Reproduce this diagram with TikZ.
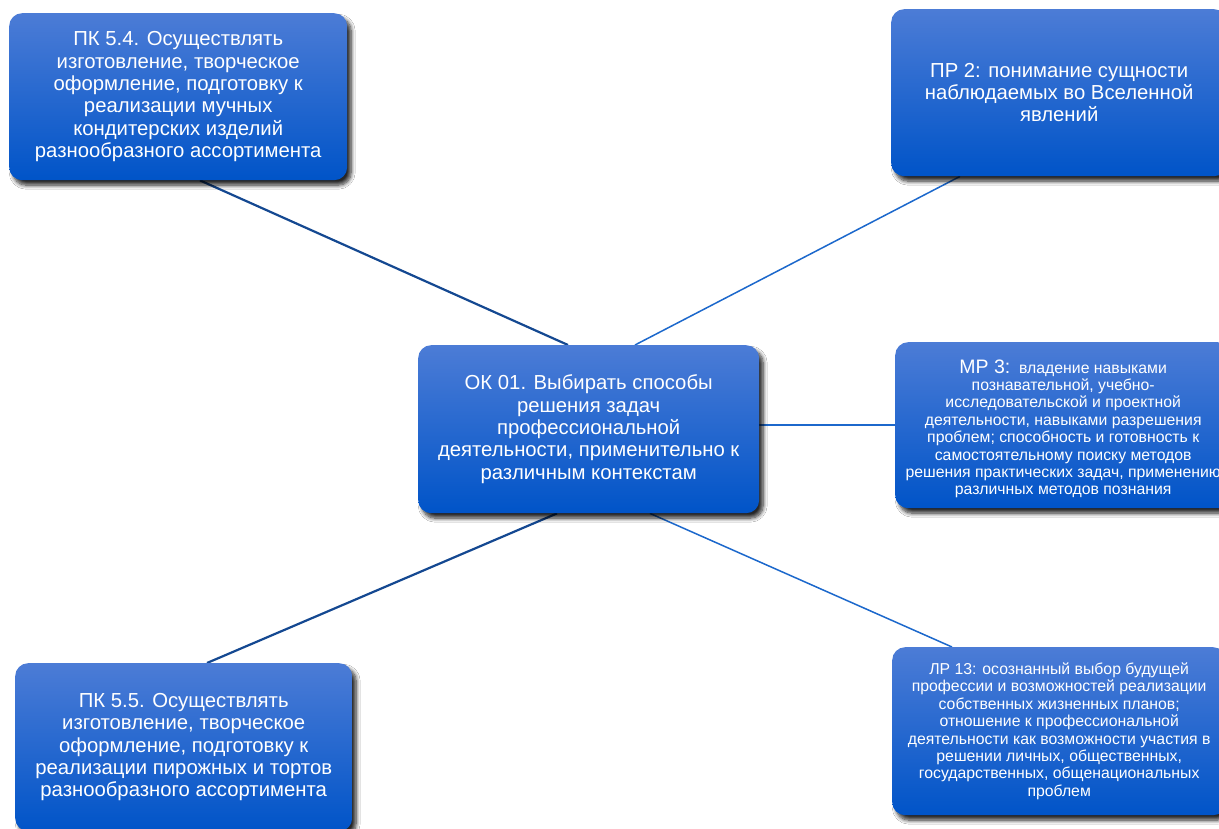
\documentclass[tikz,border=0pt]{standalone}
\usepackage{fontspec}
\setmainfont{Liberation Sans}
\usetikzlibrary{shadows.blur,backgrounds}
\definecolor{boxtop}{RGB}{76,124,214}
\definecolor{boxmid}{RGB}{22,98,210}
\definecolor{boxbot}{RGB}{0,84,200}
\definecolor{navy}{RGB}{20,72,145}
\definecolor{linkblue}{RGB}{28,104,204}
\tikzset{
  boxnode/.style={rectangle, rounded corners=13pt, top color=boxtop, middle color=boxmid, bottom color=boxbot,
    blur shadow={shadow xshift=4pt, shadow yshift=-5pt, shadow blur radius=4pt, shadow opacity=85, shadow blur steps=8},
    text=white, align=center, inner sep=0pt, anchor=north west},
  bigtext/.style={font={\fontsize{20.3}{22.3}\selectfont}},
  smalltext/.style={font={\fontsize{15.8}{17.4}\selectfont}},
  darklink/.style={draw=navy, line width=2.2pt},
  lightlink/.style={draw=linkblue, line width=1.5pt},
}
\begin{document}
\begin{tikzpicture}[x=1pt,y=-1pt]
\useasboundingbox (0,0) rectangle (1219,829);
\clip (0,0) rectangle (1219,829);

\node[boxnode, bigtext, minimum width=338pt, minimum height=167pt] (b1) at (9,13)
  {ПК 5.4. Осуществлять\\изготовление, творческое\\оформление, подготовку к\\реализации мучных\\кондитерских изделий\\разнообразного ассортимента};

\node[boxnode, bigtext, minimum width=336pt, minimum height=167pt] (b2) at (891,9)
  {ПР 2: понимание сущности\\наблюдаемых во Вселенной\\явлений};

\node[boxnode, bigtext, minimum width=341pt, minimum height=168pt] (c) at (418,345)
  {ОК 01. Выбирать способы\\решения задач\\профессиональной\\деятельности, применительно к\\различным контекстам};

\node[boxnode, smalltext, minimum width=336pt, minimum height=166pt] (b4) at (895,342)
  {\rule{0pt}{21pt}{\fontsize{19.5}{17.4}\selectfont МР 3:}\ \ владение навыками\\познавательной, учебно-\\исследовательской и проектной\\деятельности, навыками разрешения\\проблем; способность и готовность к\\самостоятельному поиску методов\\решения практических задач, применению\\различных методов познания};

\node[boxnode, bigtext, minimum width=337pt, minimum height=168pt] (b5) at (15,663)
  {ПК 5.5. Осуществлять\\изготовление, творческое\\оформление, подготовку к\\реализации пирожных и тортов\\разнообразного ассортимента};

\node[boxnode, smalltext, minimum width=334pt, minimum height=168pt] (b6) at (892,647)
  {ЛР 13: осознанный выбор будущей\\профессии и возможностей реализации\\собственных жизненных планов;\\отношение к профессиональной\\деятельности как возможности участия в\\решении личных, общественных,\\государственных, общенациональных\\проблем};

\begin{scope}[on background layer]
  \fill[white] (0,0) rectangle (1219,829);
  \draw[darklink] ([xshift=191pt]b1.south west) -- ([xshift=150pt]c.north west);
  \draw[lightlink] ([xshift=217pt]c.north west) -- ([xshift=69pt]b2.south west);
  \draw[lightlink] ([yshift=4pt]c.east) -- (b4.west);
  \draw[lightlink] ([xshift=232pt]c.south west) -- ([xshift=60pt]b6.north west);
  \draw[darklink] ([xshift=139pt]c.south west) -- ([xshift=192pt]b5.north west);
\end{scope}
\end{tikzpicture}
\end{document}
